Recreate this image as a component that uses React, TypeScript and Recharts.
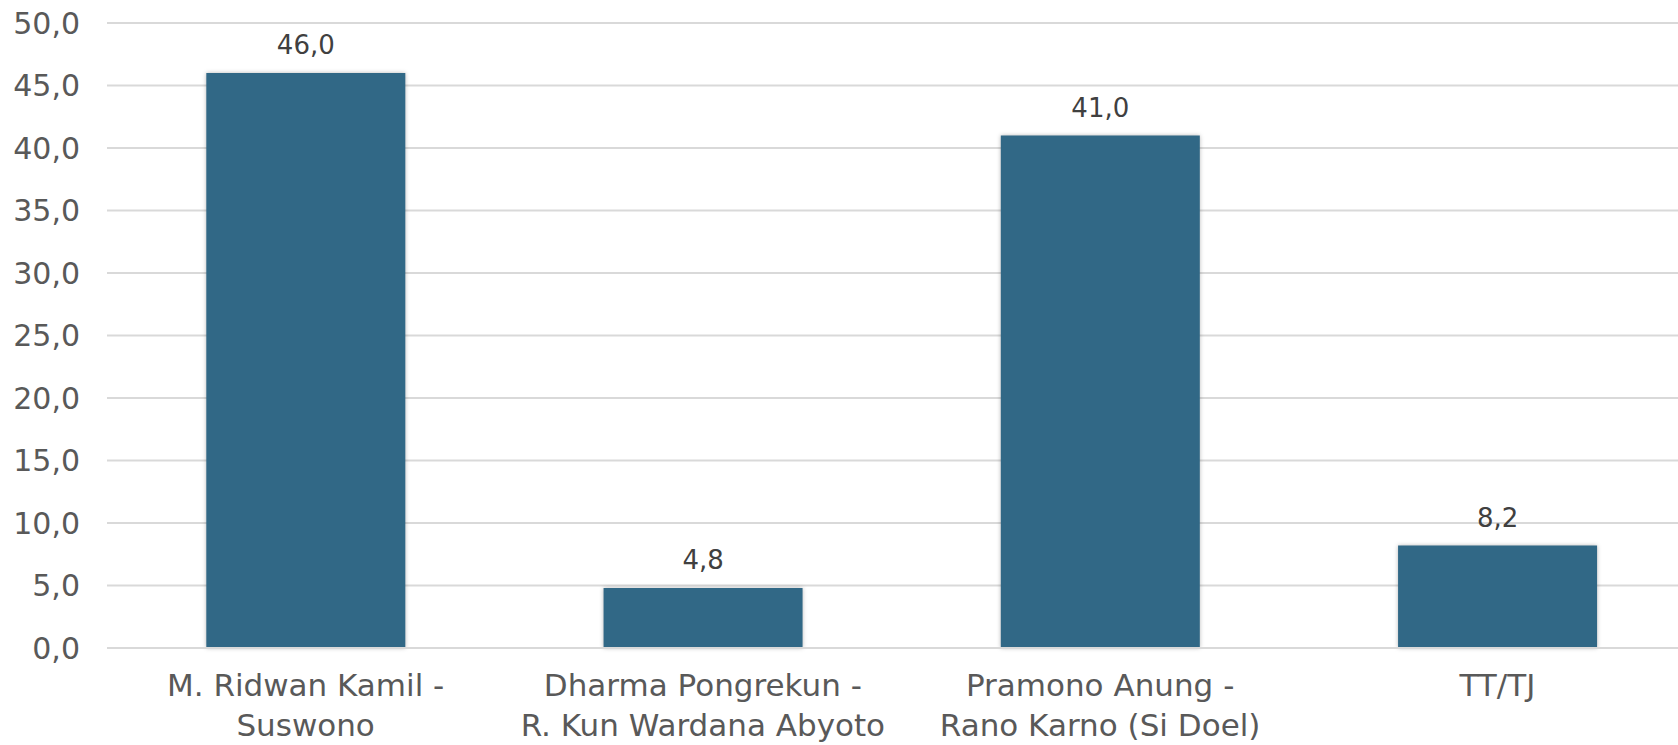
import React from 'react';
import { BarChart, Bar, XAxis, YAxis, CartesianGrid, LabelList } from 'recharts';

const categories = [
  'M. Ridwan Kamil -\nSuswono',
  'Dharma Pongrekun -\nR. Kun Wardana Abyoto',
  'Pramono Anung -\nRano Karno (Si Doel)',
  'TT/TJ',
];
const values = [46.0, 4.8, 41.0, 8.2];
const yTicks = [0, 5, 10, 15, 20, 25, 30, 35, 40, 45, 50];

const data = categories.map((name, i) => ({ name, value: values[i] }));

const FONT = '"DejaVu Sans", sans-serif';
const TEXT = '#595959';
const fmt = (v: number) => v.toFixed(1).replace('.', ',');

function CategoryTick(props: any) {
  const { x, y, payload } = props;
  const lines = String(payload.value).split('\n');
  return (
    <text x={x} y={y} textAnchor="middle" fill={TEXT} fontSize={31} fontFamily={FONT}>
      {lines.map((line, i) => (
        <tspan key={i} x={x} dy={i === 0 ? 40 : 40}>
          {line}
        </tspan>
      ))}
    </text>
  );
}

export default function App() {
  return (
    <div style={{ position: 'absolute', left: 0, top: 0, width: 1678, height: 745, overflow: 'hidden', background: '#fff' }}>
      <style>{`.recharts-bar-rectangle path { filter: drop-shadow(0 0 2px rgba(0,0,0,0.28)); }`}</style>
      <BarChart
        width={1696}
        height={745}
        data={data}
        margin={{ top: 23, right: 0, bottom: 0, left: 0 }}
        barCategoryGap="25%"
      >
        <CartesianGrid vertical={false} stroke="#d9d9d9" strokeWidth={2} />
        <XAxis
          dataKey="name"
          axisLine={{ stroke: '#d9d9d9', strokeWidth: 2 }}
          tickLine={false}
          interval={0}
          height={97}
          tick={<CategoryTick />}
        />
        <YAxis
          domain={[0, 50]}
          ticks={yTicks}
          axisLine={false}
          tickLine={false}
          width={107}
          tickMargin={21}
          tickFormatter={fmt}
          tick={{ fill: TEXT, fontSize: 30, fontFamily: FONT }}
        />
        <Bar dataKey="value" fill="#316886" isAnimationActive={false}>
          <LabelList
            dataKey="value"
            position="top"
            offset={19}
            formatter={(v: any) => fmt(Number(v))}
            style={{ fill: '#404040', fontSize: 26, fontFamily: FONT }}
          />
        </Bar>
      </BarChart>
    </div>
  );
}
